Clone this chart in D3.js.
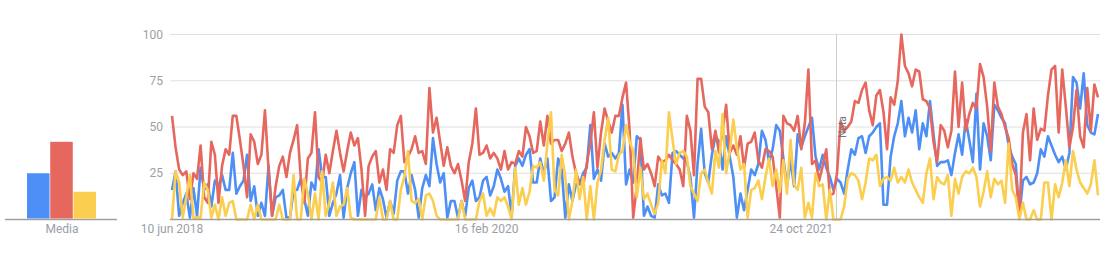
<!DOCTYPE html>
<html>
<head>
<meta charset="utf-8">
<script src="https://cdn.jsdelivr.net/npm/d3@7"></script>
<style>
  body { margin: 0; background: #fff; font-family: Roboto, Arial, sans-serif; }
  svg text { fill: #9aa0a6; font-size: 12px; }
</style>
</head>
<body>
<svg id="chart" width="1116" height="267"></svg>
<script>
// weekly data, first week 10 jun 2018
const startDate = new Date(2018, 5, 10);

const serieBlue = [16,26,2,9,14,1,17,2,28,16,19,7,21,18,24,16,16,36,14,18,21,35,10,18,2,9,2,29,2,12,13,16,1,1,16,16,22,11,2,20,16,38,23,
  23,2,9,14,24,1,17,25,31,2,16,12,14,19,5,17,11,1,10,3,21,26,26,14,24,16,1,17,24,18,44,30,20,25,1,10,10,1,10,2,17,21,10,
  12,21,23,13,18,27,22,15,18,2,29,33,29,35,38,20,20,33,25,33,10,12,33,27,1,19,10,19,19,25,28,51,22,27,21,41,34,36,33,36,62,19,
  27,20,45,43,2,7,2,1,19,13,14,9,36,37,35,33,31,23,1,30,49,25,20,35,45,42,27,45,34,23,1,14,5,16,27,24,30,48,43,31,38,51,48,33,
  18,32,18,46,39,45,50,55,34,27,35,28,23,16,22,20,14,27,38,35,44,45,36,45,47,50,52,8,8,34,45,52,64,45,55,47,59,38,52,45,64,46,29,
  31,31,32,24,36,46,35,54,43,31,68,27,52,45,32,62,59,55,52,40,34,30,2,21,23,19,20,25,38,34,45,40,35,31,34,27,36,77,74,60,79,51,47,46,57];

const serieRed = [56,39,27,24,26,11,25,22,40,12,9,42,35,9,29,38,35,56,56,43,29,12,46,42,30,35,59,27,2,18,29,34,23,36,43,51,23,9,33,36,58,23,20,
  35,25,37,48,36,26,37,47,40,44,27,2,29,34,37,20,27,16,38,36,51,56,31,34,38,45,36,37,30,71,47,55,42,29,39,29,25,30,21,10,31,41,60,
  35,36,40,33,36,33,27,37,27,31,30,37,34,50,45,36,37,53,40,56,41,43,43,37,41,47,34,25,20,18,30,41,58,28,47,60,53,47,56,56,66,74,
  48,1,18,44,27,30,25,18,34,31,32,35,32,30,27,18,56,48,24,76,76,61,58,38,48,36,48,62,36,40,35,45,28,41,42,47,32,28,38,37,34,18,1,56,
  52,51,48,56,38,52,81,30,32,21,29,38,13,14,25,53,48,50,53,64,63,70,74,59,51,67,70,58,38,66,62,75,100,83,79,72,81,80,65,64,60,42,31,
  51,48,39,48,80,50,74,48,57,63,60,84,77,61,37,74,61,57,50,44,30,24,2,47,57,32,60,43,49,48,67,81,83,47,81,61,39,50,70,45,39,71,48,73,66];

const serieYellow = [0,26,20,1,12,24,1,1,1,20,16,1,8,0,12,2,9,10,0,0,0,0,8,0,8,0,0,0,0,0,8,0,0,0,24,0,0,22,14,0,14,0,26,
  2,9,20,2,7,8,17,1,0,0,0,0,0,0,0,12,0,0,10,0,0,16,23,37,10,9,11,0,13,14,10,2,0,0,0,0,0,0,10,0,0,0,0,
  10,14,2,6,2,12,10,12,7,0,28,8,17,8,15,29,28,31,21,41,58,16,13,35,23,0,10,27,11,23,0,18,0,20,27,43,55,27,26,35,37,51,
  42,37,12,28,11,14,8,3,9,32,25,58,43,30,36,37,34,18,14,10,25,27,20,14,37,28,57,25,37,54,39,27,30,1,16,17,21,11,23,33,18,27,15,32,
  14,43,19,16,28,1,9,1,25,18,19,0,16,0,0,0,7,22,25,24,21,11,20,33,32,35,18,22,23,21,28,20,23,20,27,20,16,12,9,25,33,11,23,
  20,19,24,2,22,14,23,26,25,28,23,7,15,26,12,22,19,21,9,41,16,12,0,9,0,0,5,0,0,20,20,0,19,12,20,32,18,37,27,20,17,14,19,32,13];

const seriesColors = ['#4d8ff5', '#e5675e', '#fbce4f'];
const averageValues = [25, 42, 15];
const averageLabel = 'Media';

const yTicks = [25, 50, 75, 100];
const xTickLabels = ['10 jun 2018', '16 feb 2020', '24 oct 2021'];
const xTickDates = [new Date(2018, 5, 10), new Date(2020, 1, 16), new Date(2021, 9, 24)];
const noteDate = new Date(2022, 0, 1);
const noteLabel = 'Nota';

const svg = d3.select('#chart');

// shared y scale (bars and lines use the same 0-100 range)
const y = d3.scaleLinear().domain([0, 100]).range([219.5, 34.5]);

// ---- left: average bars
const xBar = d3.scaleBand().domain([0, 1, 2]).range([27, 96]).paddingInner(0.03);

svg.append('line')
    .attr('x1', 5).attr('x2', 117)
    .attr('y1', y(0)).attr('y2', y(0))
    .attr('stroke', '#9e9e9e').attr('stroke-width', 1.5);

svg.append('g').selectAll('rect')
    .data(averageValues)
    .enter()
    .append('rect')
    .attr('x', (d, i) => xBar(i))
    .attr('width', xBar.bandwidth())
    .attr('y', d => y(d))
    .attr('height', d => y(0) - y(d) - 1)
    .attr('fill', (d, i) => seriesColors[i]);

svg.append('text')
    .attr('x', 62).attr('y', 233)
    .attr('text-anchor', 'middle')
    .text(averageLabel);

// ---- right: weekly lines
const dates = serieBlue.map((d, i) => d3.timeWeek.offset(startDate, i));
const x = d3.scaleTime().domain([dates[0], dates[dates.length - 1]]).range([172, 1098]);

// grid lines
svg.append('g').selectAll('line')
    .data(yTicks)
    .enter()
    .append('line')
    .attr('x1', 170).attr('x2', 1100)
    .attr('y1', d => y(d)).attr('y2', d => y(d))
    .attr('stroke', '#e0e0e0').attr('stroke-width', 1);

svg.append('g').selectAll('text')
    .data(yTicks)
    .enter()
    .append('text')
    .attr('x', 163)
    .attr('y', d => y(d) + 4)
    .attr('text-anchor', 'end')
    .text(d => d);

// note line
svg.append('line')
    .attr('x1', Math.round(x(noteDate)) + 0.5).attr('x2', Math.round(x(noteDate)) + 0.5)
    .attr('y1', y(100)).attr('y2', y(0))
    .attr('stroke', '#cccccc').attr('stroke-width', 1);

const line = d3.line()
    .x((d, i) => x(dates[i]))
    .y(d => y(d));

[serieBlue, serieRed, serieYellow].forEach((serie, k) => {
    svg.append('path')
        .datum(serie)
        .attr('d', line)
        .attr('fill', 'none')
        .attr('stroke', seriesColors[k])
        .attr('stroke-width', 2.6)
        .attr('stroke-linejoin', 'round');
});

svg.append('text')
    .attr('transform', `translate(${x(noteDate) + 10},127) rotate(-90)`)
    .attr('text-anchor', 'middle')
    .style('font-size', '10px')
    .style('fill', '#757575')
    .text(noteLabel);

// x axis baseline
svg.append('line')
    .attr('x1', 170).attr('x2', 1100)
    .attr('y1', y(0)).attr('y2', y(0))
    .attr('stroke', '#9e9e9e').attr('stroke-width', 1.5);

svg.append('g').selectAll('text')
    .data(xTickDates)
    .enter()
    .append('text')
    .attr('x', d => x(d))
    .attr('y', 233)
    .attr('text-anchor', 'middle')
    .text((d, i) => xTickLabels[i]);
</script>
</body>
</html>
